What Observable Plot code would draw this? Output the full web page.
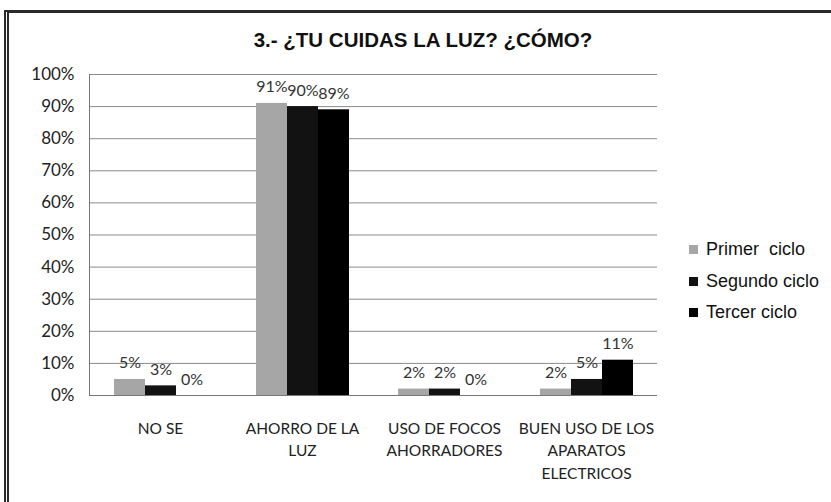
<!DOCTYPE html>
<html>
<head>
<meta charset="utf-8">
<script src="https://cdn.jsdelivr.net/npm/d3@7"></script>
<script src="https://cdn.jsdelivr.net/npm/@observablehq/plot@0.6"></script>
<style>
  html, body { margin: 0; padding: 0; background: #fff; }
  #wrap { position: relative; width: 831px; height: 502px; overflow: hidden; background: #fff; }
  #frame { position: absolute; left: 4px; top: 10px; width: 900px; height: 600px;
           border-left: 5px double #2a2a2a; border-top: 3px solid #2a2a2a; }
  #title { position: absolute; left: 0; width: 846px; top: 28px; text-align: center;
           font-family: "Liberation Sans", Arial, sans-serif; font-weight: bold; font-size: 20.5px; color: #111; }
  #chart { position: absolute; left: 0; top: 0; }
  #legend { position: absolute; left: 689px; top: 234px; font-family: "Liberation Sans", Arial, sans-serif;
            font-size: 18px; color: #111; }
  .item { height: 31.5px; display: flex; align-items: center; white-space: pre; }
  .sw { width: 9px; height: 9px; margin-right: 8px; display: inline-block; }
</style>
</head>
<body>
<div id="wrap">
  <div id="frame"></div>
  <div id="chart"></div>
  <div id="title"></div>
  <div id="legend"></div>
</div>
<script>
const titleText = "3.- ¿TU CUIDAS LA LUZ? ¿CÓMO?";
const categories = ["NO SE", "AHORRO DE LA LUZ", "USO DE FOCOS AHORRADORES", "BUEN USO DE LOS APARATOS ELECTRICOS"];
const categoryLabels = ["NO SE", "AHORRO DE LA\nLUZ", "USO DE FOCOS\nAHORRADORES", "BUEN USO DE LOS\nAPARATOS\nELECTRICOS"];
const series = ["Primer  ciclo", "Segundo ciclo", "Tercer ciclo"];
const primerCiclo = [5, 91, 2, 2];
const segundoCiclo = [3, 90, 2, 5];
const tercerCiclo = [0, 89, 0, 11];
const yTicks = [0, 10, 20, 30, 40, 50, 60, 70, 80, 90, 100];
const colors = ["#a6a6a6", "#121212", "#000000"];

const seriesValues = [primerCiclo, segundoCiclo, tercerCiclo];
const rows = [];
categories.forEach((c, i) => {
  series.forEach((s, j) => rows.push({category: c, series: s, value: seriesValues[j][i]}));
});

document.getElementById("title").textContent = titleText;

const chart = Plot.plot({
  width: 831,
  height: 502,
  marginLeft: 87,
  marginRight: 173,
  marginTop: 74,
  marginBottom: 107,
  style: {background: "transparent", fontFamily: "Lato, sans-serif"},
  fx: {domain: categories, padding: 0, axis: null},
  x: {domain: series, paddingInner: 0, paddingOuter: 0.73, axis: null},
  y: {domain: [0, 100], axis: null},
  color: {domain: series, range: colors},
  marks: [
    Plot.gridY(yTicks, {stroke: "#8a8a8a", strokeOpacity: 1, strokeWidth: 1}),
    Plot.axisY(yTicks, {tickFormat: d => d + "%", tickSize: 0, tickPadding: 15, fontSize: 17, fill: "#222", facetAnchor: "left", label: null}),
    Plot.frame({anchor: "left", stroke: "#777", facetAnchor: "left"}),
    Plot.barY(rows, {fx: "category", x: "series", y: "value", fill: "series"}),
    Plot.ruleY([0], {stroke: "#777"}),
    Plot.text(rows, {fx: "category", x: "series", y: "value", text: d => d.value + "%",
      lineAnchor: "bottom", dy: -11, fontSize: 16, fill: "#333"}),
    Plot.text(categories, {fx: d => d, text: (d, i) => categoryLabels[i], frameAnchor: "bottom",
      lineAnchor: "top", dy: 22, fontSize: 15.5, lineHeight: 1.47, fill: "#222"})
  ]
});
document.getElementById("chart").appendChild(chart);

const legend = document.getElementById("legend");
series.forEach((s, j) => {
  const item = document.createElement("div");
  item.className = "item";
  const sw = document.createElement("span");
  sw.className = "sw";
  sw.style.background = colors[j];
  item.appendChild(sw);
  item.appendChild(document.createTextNode(s));
  legend.appendChild(item);
});
</script>
</body>
</html>
